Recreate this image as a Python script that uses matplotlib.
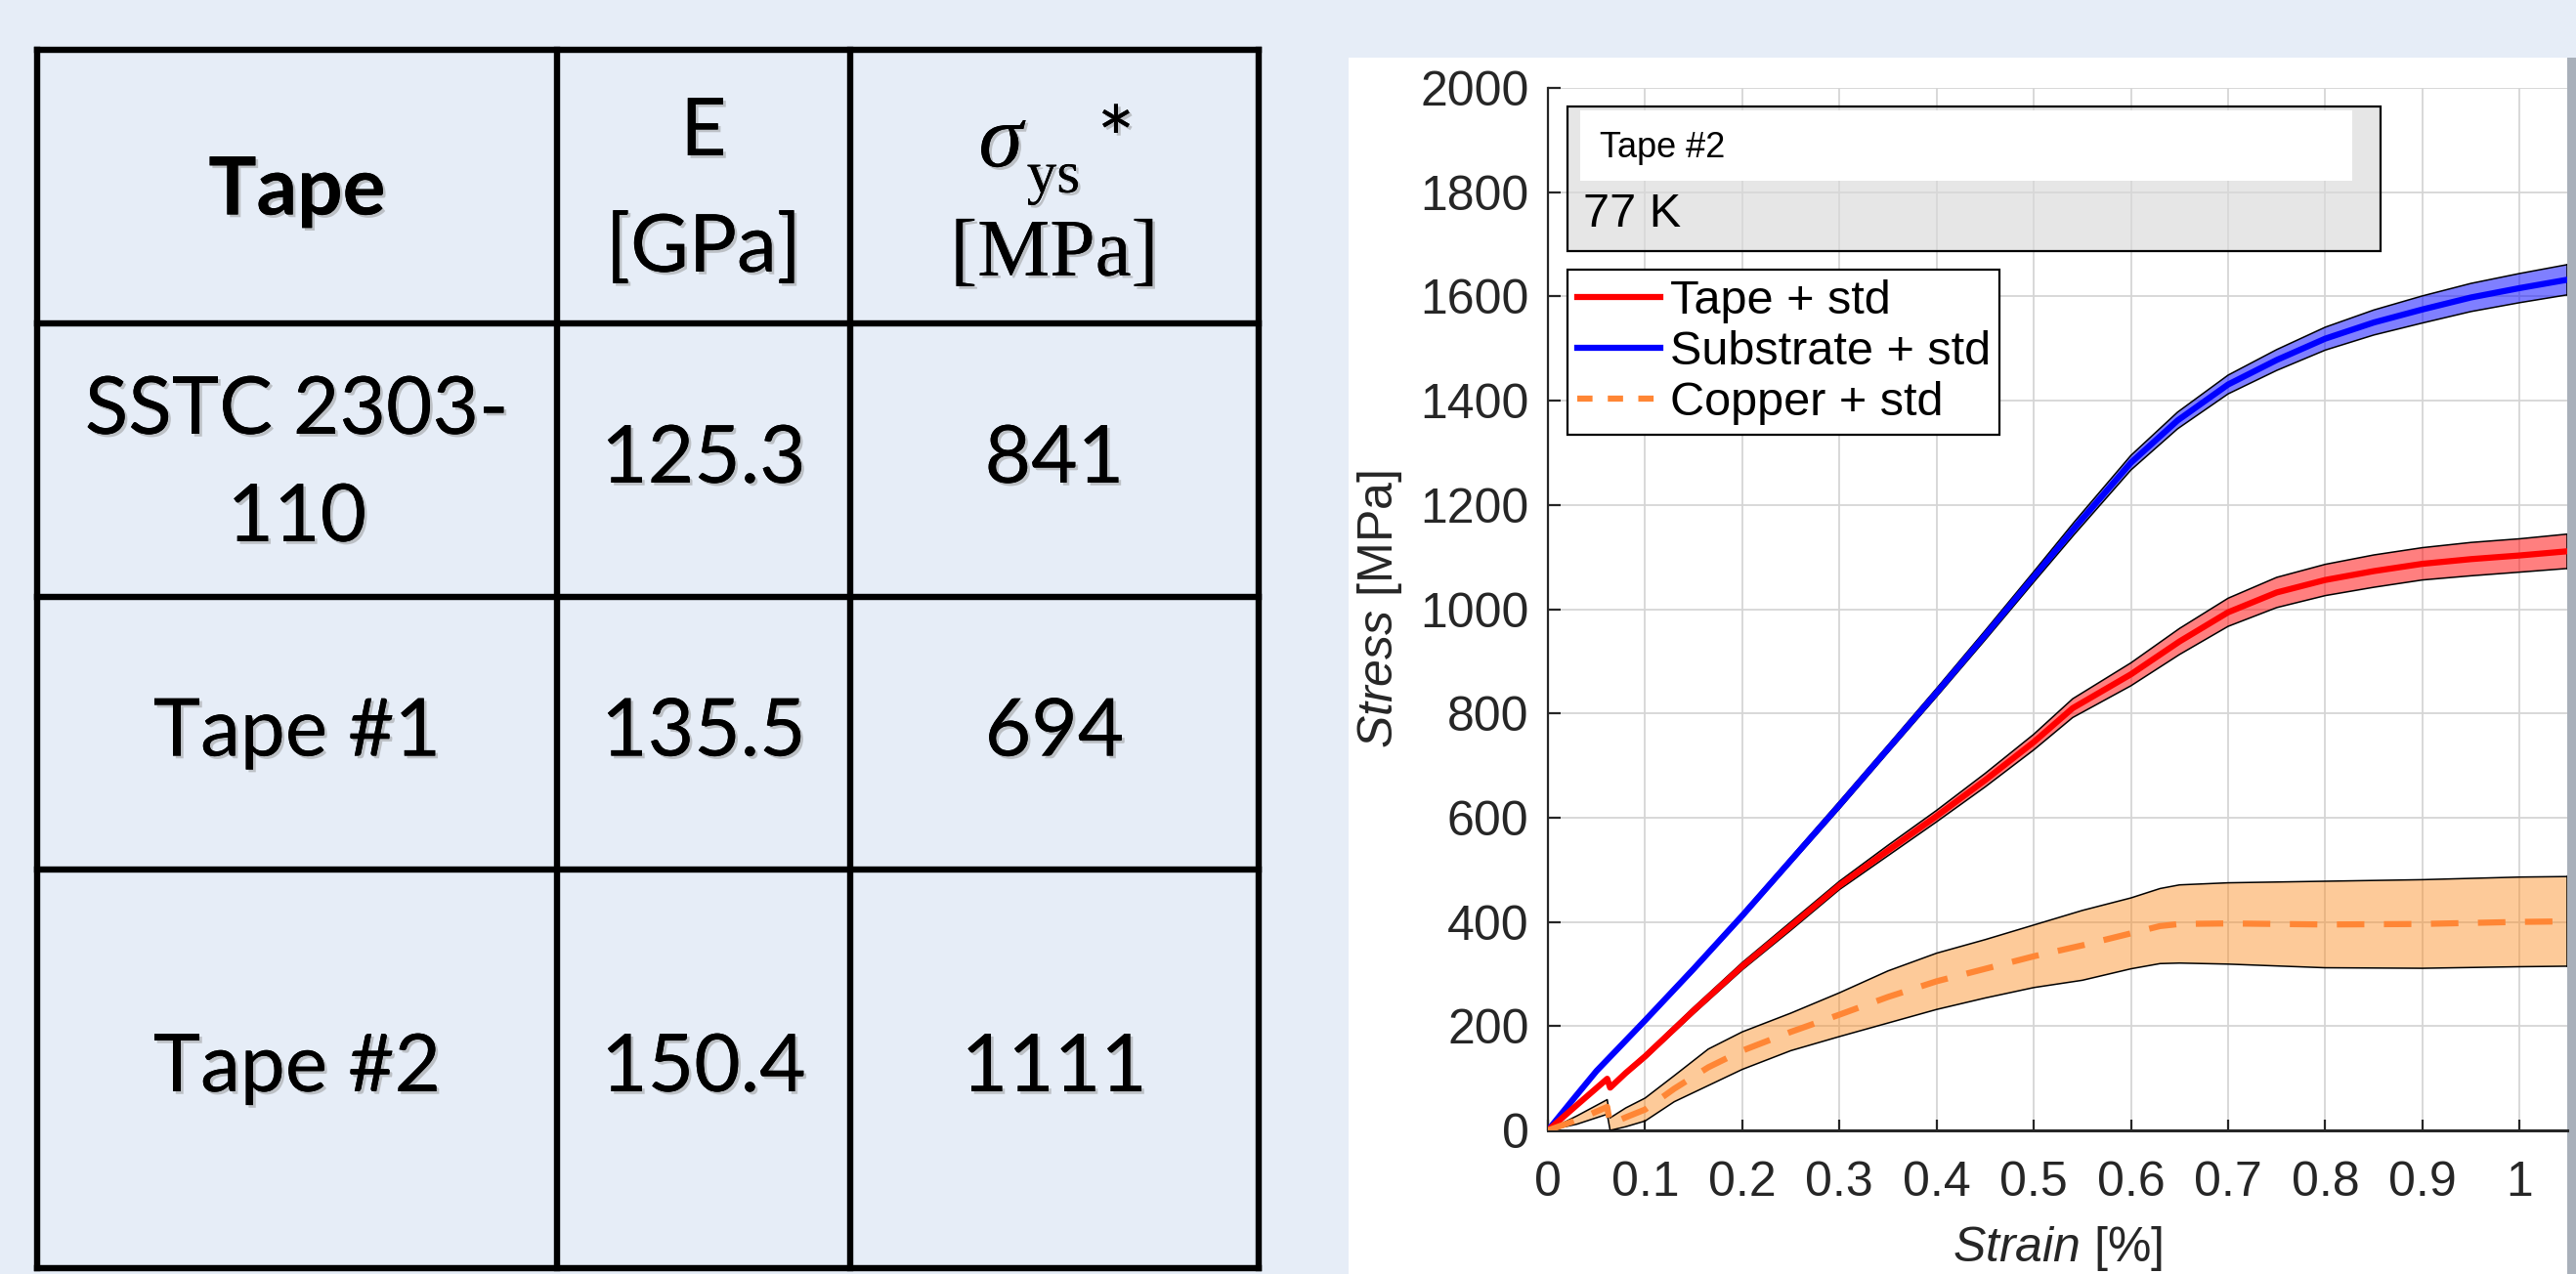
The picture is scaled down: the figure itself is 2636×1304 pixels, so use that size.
import numpy as np
import matplotlib
matplotlib.use("Agg")
import matplotlib.pyplot as plt
from matplotlib.lines import Line2D
from matplotlib.patches import Rectangle
import matplotlib.patheffects as pe

# ---- table data ----
col_titles = ["Tape", "E", "[GPa]", "[MPa]"]
tape_names = [["SSTC 2303-", "110"], ["Tape #1"], ["Tape #2"]]
modulus_gpa = ["125.3", "135.5", "150.4"]
yield_mpa = ["841", "694", "1111"]

# ---- stress-strain curves (strain in %, stress in MPa) ----
sub_strain = [0, 0.027, 0.05, 0.1, 0.15, 0.2, 0.25, 0.3, 0.35, 0.4, 0.45, 0.5,
              0.542, 0.6, 0.648, 0.7, 0.75, 0.8, 0.85, 0.9, 0.95, 1.0, 1.049]
sub_stress = [0, 62, 114, 211, 310, 412, 518, 624, 732, 840, 950, 1062,
              1156, 1281, 1362, 1431, 1478, 1519, 1550, 1575, 1598, 1616, 1632]
sub_std = [0, 2, 3, 4, 5, 5, 6, 7, 7, 8, 9, 10,
           12, 14, 16, 18, 20, 22, 24, 26, 27, 28, 29]

tape_strain = [0, 0.03, 0.061, 0.064, 0.08, 0.1, 0.15, 0.2, 0.25, 0.3, 0.35, 0.4,
               0.45, 0.5, 0.54, 0.6, 0.65, 0.7, 0.75, 0.8, 0.85, 0.9, 0.95, 1.0, 1.049]
tape_stress = [0, 49, 99, 82, 110, 142, 230, 315, 392, 470, 537, 603,
               672, 745, 810, 875, 938, 994, 1032, 1056, 1073, 1087, 1096, 1103, 1111]
tape_std = [0, 2, 3, 3, 4, 5, 6, 7, 8, 8, 10, 11,
            13, 15, 18, 22, 25, 27, 29, 30, 31, 31, 32, 32, 33]

cu_strain = [0, 0.03, 0.061, 0.064, 0.08, 0.1, 0.13, 0.165, 0.2, 0.25, 0.3, 0.35,
             0.4, 0.45, 0.5, 0.55, 0.6, 0.63, 0.65, 0.7, 0.8, 0.9, 1.0, 1.049]
cu_stress = [0, 20, 45, 12, 25, 40, 80, 121, 153, 189, 222, 256,
             286, 310, 334, 355, 378, 392, 396, 397, 395, 396, 400, 401]
cu_std = [0, 8, 14, 12, 18, 22, 25, 35, 36, 36, 42, 50,
          54, 56, 60, 67, 68, 72, 75, 78, 83, 85, 86, 86]

W, H = 2636, 1304
BG = "#E6EDF7"
TXT = "#262626"


def fx(x):
    return x / W


def fy(y):
    return 1 - y / H


plt.rcParams["mathtext.fontset"] = "custom"
plt.rcParams["mathtext.rm"] = "Liberation Sans"
plt.rcParams["mathtext.it"] = "Liberation Sans:italic"

fig = plt.figure(figsize=(W / 100, H / 100), dpi=100, facecolor=BG)

# ---------------- table on the left ----------------
shadow = [pe.withSimplePatchShadow(offset=(2, -2), shadow_rgbFace="#8a8a8a", alpha=0.45), pe.Normal()]
col_x = [38, 570, 870, 1288]
row_y = [51, 331, 611, 890, 1298]
for y in row_y:
    fig.add_artist(Line2D([fx(col_x[0]), fx(col_x[-1])], [fy(y), fy(y)], color="k", lw=4.6,
                          solid_capstyle="projecting", transform=fig.transFigure))
for x in col_x:
    fig.add_artist(Line2D([fx(x), fx(x)], [fy(row_y[0]), fy(row_y[-1])], color="k", lw=4.6,
                          solid_capstyle="projecting", transform=fig.transFigure))

tfont = dict(family="Lato", fontsize=59, color="k", ha="center", va="center",
             path_effects=shadow, transform=fig.transFigure)
c0 = (col_x[0] + col_x[1]) / 2
c1 = (col_x[1] + col_x[2]) / 2
c2 = (col_x[2] + col_x[3]) / 2
fig.text(fx(c0), fy(196), col_titles[0], fontweight="bold", **tfont)
fig.text(fx(c1), fy(136), col_titles[1], **tfont)
fig.text(fx(c1), fy(255), col_titles[2], **tfont)
fig.text(fx(1024), fy(148), "σ", family="Liberation Serif", style="italic", fontsize=66,
         color="k", ha="center", va="center", path_effects=shadow, transform=fig.transFigure)
fig.text(fx(1078), fy(182), "ys", family="Liberation Serif", fontsize=44,
         color="k", ha="center", va="center", path_effects=shadow, transform=fig.transFigure)
fig.text(fx(1142), fy(150), "*", family="Lato", fontsize=66,
         color="k", ha="center", va="center", path_effects=shadow, transform=fig.transFigure)
fig.text(fx(c2), fy(262), col_titles[3], family="Liberation Serif", fontsize=60,
         color="k", ha="center", va="center", path_effects=shadow, transform=fig.transFigure)

for i in range(3):
    yc = (row_y[i + 1] + row_y[i + 2]) / 2
    names = tape_names[i]
    if len(names) == 2:
        fig.text(fx(c0), fy(yc - 50), names[0], **tfont)
        fig.text(fx(c0), fy(yc + 60), names[1], **tfont)
    else:
        fig.text(fx(c0), fy(yc), names[0], **tfont)
    fig.text(fx(c1), fy(yc), modulus_gpa[i], **tfont)
    fig.text(fx(c2), fy(yc), yield_mpa[i], **tfont)

# ---------------- white panel + plot ----------------
fig.add_artist(Rectangle((fx(1380), 0), fx(2627) - fx(1380), fy(59), facecolor="white",
                         edgecolor="none", transform=fig.transFigure, zorder=0))
fig.add_artist(Rectangle((fx(2627), 0), fx(2636) - fx(2627), fy(59), facecolor="#A9B0BA",
                         edgecolor="none", transform=fig.transFigure, zorder=0))

ax = fig.add_axes([fx(1584), fy(1157), fx(2627) - fx(1584), fy(90) - fy(1157)])
ax.set_facecolor("white")
ax.set_axisbelow(True)

series = [
    (sub_strain, sub_stress, sub_std, "#0000FF", "#0000FF", 0.5, "-"),
    (tape_strain, tape_stress, tape_std, "#FF0000", "#FF0000", 0.5, "-"),
    (cu_strain, cu_stress, cu_std, "#FF8635", "#FB8A1E", 0.45, "--"),
]
for xs, ys, ss, lc, fc, al, ls in series:
    xs = np.array(xs)
    ys = np.array(ys)
    ss = np.array(ss)
    ax.fill_between(xs, ys - ss, ys + ss, facecolor=fc, alpha=al, edgecolor="none", zorder=2)
    ax.plot(xs, ys - ss, color="k", lw=1.1, zorder=3)
    ax.plot(xs, ys + ss, color="k", lw=1.1, zorder=3)
    ax.plot([xs[-1], xs[-1]], [ys[-1] - ss[-1], ys[-1] + ss[-1]], color="k", lw=1.1, zorder=3)
    if ls == "--":
        ax.plot(xs, ys, color=lc, lw=4.5, dashes=(4.5, 3.2), zorder=4)
    else:
        ax.plot(xs, ys, color=lc, lw=4.5, zorder=4)

ax.set_xlim(0, 1.049)
ax.set_ylim(0, 2000)
ax.set_xticks(np.arange(0, 1.01, 0.1))
ax.set_xticklabels(["0", "0.1", "0.2", "0.3", "0.4", "0.5", "0.6", "0.7", "0.8", "0.9", "1"])
ax.set_yticks(np.arange(0, 2001, 200))
ax.grid(True, color="#D5D5D5", lw=1.3)
for s in ["top", "right"]:
    ax.spines[s].set_visible(False)
ax.spines["left"].set_color(TXT)
ax.spines["left"].set_linewidth(1.6)
ax.spines["bottom"].set_color(TXT)
ax.spines["bottom"].set_linewidth(2.2)
ax.tick_params(axis="x", direction="in", length=8, width=1.6, color=TXT, pad=22,
               labelsize=36, labelcolor=TXT)
ax.tick_params(axis="y", direction="in", length=9, width=1.6, color=TXT, pad=14,
               labelsize=36, labelcolor=TXT)
for lab in ax.get_xticklabels() + ax.get_yticklabels():
    lab.set_family("Liberation Sans")
ax.set_xlabel(r"$\it{Strain}$ [%]", fontsize=36, color=TXT, labelpad=14, family="Liberation Sans")
ax.set_ylabel(r"$\it{Stress}$ [MPa]", fontsize=36, color=TXT, labelpad=12, family="Liberation Sans")

# annotation box "Tape #2 / 77 K"
ax.add_patch(Rectangle((0.0192, 0.8435), 0.8169 - 0.0192, 0.9822 - 0.8435, transform=ax.transAxes,
                       facecolor="#D9D9D9", alpha=0.65, edgecolor="none", zorder=5))
ax.add_patch(Rectangle((0.0192, 0.8435), 0.8169 - 0.0192, 0.9822 - 0.8435, transform=ax.transAxes,
                       facecolor="none", edgecolor="k", lw=1.6, zorder=6))
ax.add_patch(Rectangle((0.0316, 0.9109), 0.789 - 0.0316, 0.9784 - 0.9109, transform=ax.transAxes,
                       facecolor="white", edgecolor="none", zorder=6))
ax.text(0.0508, 0.9419, "Tape #2", transform=ax.transAxes, fontsize=26, color="k",
        family="Liberation Sans", va="center", ha="left", zorder=7)
ax.text(0.0345, 0.8669, "77 K", transform=ax.transAxes, fontsize=35, color="k",
        family="Liberation Sans", va="baseline", ha="left", zorder=7)

handles = [Line2D([], [], color="#FF0000", lw=4.5),
           Line2D([], [], color="#0000FF", lw=4.5),
           Line2D([], [], color="#FF8635", lw=4.5, dashes=(2.5, 2.5))]
leg = ax.legend(handles, ["Tape + std", "Substrate + std", "Copper + std"],
                loc="upper left", bbox_to_anchor=(fx(1604), fy(276)), bbox_transform=fig.transFigure,
                borderaxespad=0, prop={"family": "Liberation Sans", "size": 35},
                handlelength=1.75, handletextpad=0.2, labelspacing=0.15, borderpad=0.2,
                fancybox=False, framealpha=1, edgecolor="k")
leg.get_frame().set_linewidth(1.6)
leg.set_zorder(8)

fig.savefig("out.png", dpi=100, facecolor=BG)
